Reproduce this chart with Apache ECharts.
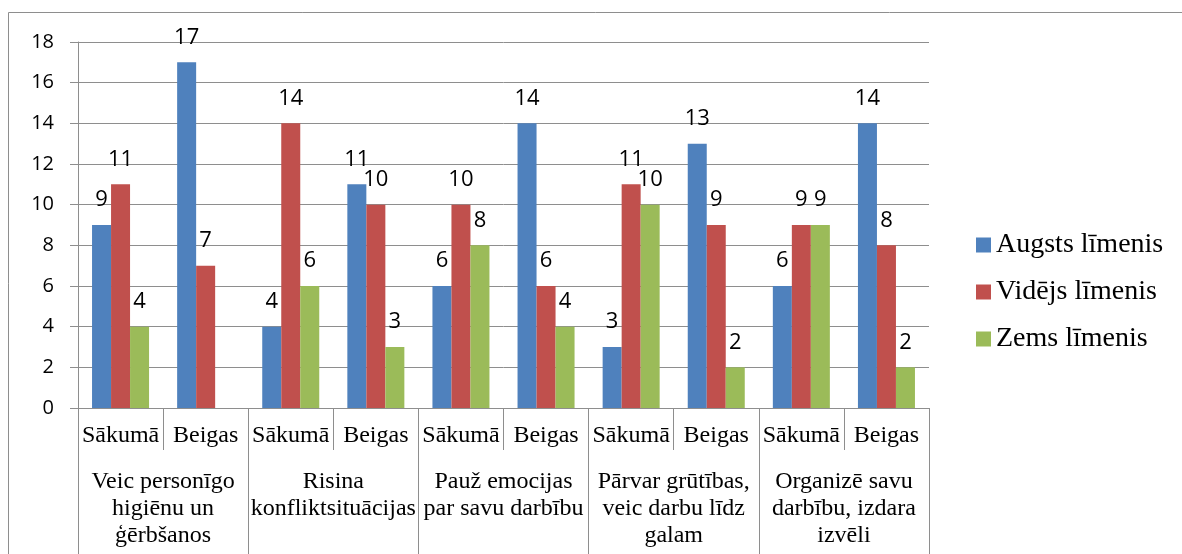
<!DOCTYPE html>
<html>
<head>
<meta charset="utf-8">
<script src="https://cdn.jsdelivr.net/npm/echarts@6/dist/echarts.min.js"></script>
<style>
  html, body { margin: 0; padding: 0; background: #fff; }
  #chart { width: 1182px; height: 554px; }
</style>
</head>
<body>
<div id="chart"></div>
<script>
// kategorijas
const periods = ['Sākumā', 'Beigas', 'Sākumā', 'Beigas', 'Sākumā', 'Beigas', 'Sākumā', 'Beigas', 'Sākumā', 'Beigas']
const skills = [
  'Veic personīgo\nhigiēnu un\nģērbšanos',
  'Risina\nkonfliktsituācijas',
  'Pauž emocijas\npar savu darbību',
  'Pārvar grūtības,\nveic darbu līdz\ngalam',
  'Organizē savu\ndarbību, izdara\nizvēli'
]

// vērtības
const seriesNames = ['Augsts līmenis', 'Vidējs līmenis', 'Zems līmenis']
const augsts = [9, 17, 4, 11, 6, 14, 3, 13, 6, 14]
const videjs = [11, 7, 14, 10, 10, 6, 11, 9, 9, 8]
const zems = [4, null, 6, 3, 8, 4, 10, 2, 9, 2]

const colors = ['#4f81bd', '#c0504d', '#9bbb59']
const gridColor = '#8e8e8e'
const sans = 'Open Sans'

const chart = echarts.init(document.getElementById('chart'))

const barLabel = {
  show: true,
  position: 'top',
  distance: 14,
  color: '#000',
  fontFamily: sans,
  fontSize: 22
}

const option = {
  animation: false,
  color: colors,
  textStyle: { fontFamily: 'Times New Roman' },
  graphic: [
    {
      type: 'rect',
      shape: { x: 8.5, y: 12.5, width: 1200, height: 600 },
      style: { fill: 'none', stroke: gridColor, lineWidth: 1 },
      silent: true
    }
  ],
  grid: { left: 78, right: 253, top: 42, bottom: 146 },
  legend: {
    orient: 'vertical',
    left: 971,
    top: 226,
    itemWidth: 15,
    itemHeight: 15,
    itemGap: 19,
    icon: 'rect',
    textStyle: { fontFamily: 'Liberation Serif', fontSize: 28, color: '#000' },
    data: seriesNames
  },
  xAxis: [
    {
      type: 'category',
      data: periods,
      axisLine: { show: true, lineStyle: { color: gridColor } },
      axisTick: { show: true, length: 42, interval: 0, lineStyle: { color: gridColor } },
      axisLabel: {
        interval: 0,
        margin: 16,
        color: '#000',
        fontFamily: 'Times New Roman',
        fontSize: 24
      }
    },
    {
      type: 'category',
      data: skills,
      position: 'bottom',
      axisLine: { show: false },
      axisTick: { show: true, length: 150, interval: 0, lineStyle: { color: gridColor } },
      axisLabel: {
        interval: 0,
        margin: 60,
        color: '#000',
        fontFamily: 'Liberation Serif',
        fontSize: 24,
        lineHeight: 27
      }
    }
  ],
  yAxis: {
    type: 'value',
    min: 0,
    max: 18,
    interval: 2,
    axisLine: { show: true, lineStyle: { color: gridColor } },
    axisTick: { show: true, length: 8, lineStyle: { color: gridColor } },
    splitLine: { lineStyle: { color: gridColor } },
    axisLabel: { margin: 24, color: '#000', fontFamily: sans, fontSize: 20 }
  },
  series: [
    { name: seriesNames[0], type: 'bar', data: augsts, barGap: 0, barCategoryGap: '33%', label: barLabel },
    { name: seriesNames[1], type: 'bar', data: videjs, barGap: 0, barCategoryGap: '33%', label: barLabel },
    { name: seriesNames[2], type: 'bar', data: zems, barGap: 0, barCategoryGap: '33%', label: barLabel }
  ]
}

chart.setOption(option)
</script>
</body>
</html>
